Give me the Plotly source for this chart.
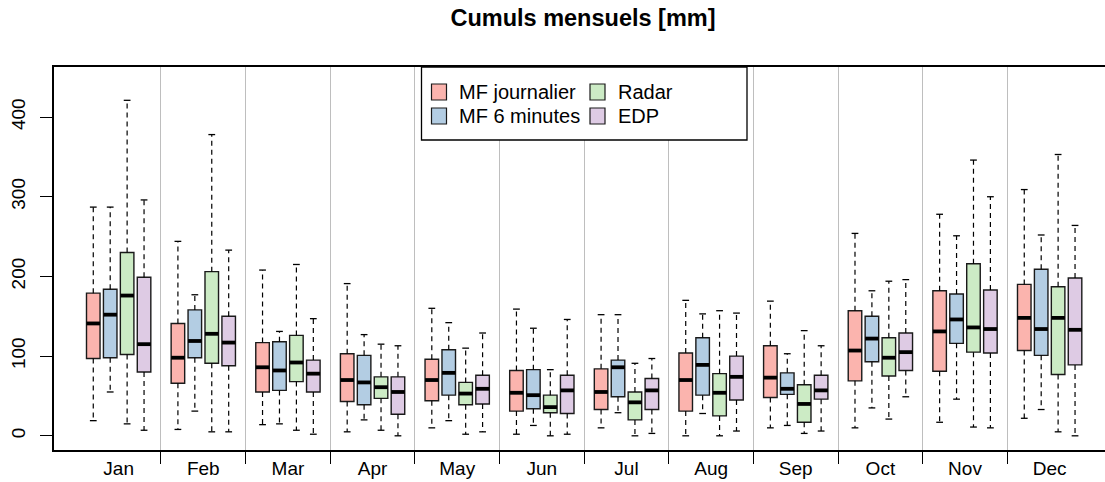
import plotly.graph_objects as go

months = ["Jan", "Feb", "Mar", "Apr", "May", "Jun", "Jul", "Aug", "Sep", "Oct", "Nov", "Dec"]
series_names = ["MF journalier", "MF 6 minutes", "Radar", "EDP"]
fill_colors = ["#FBB4AE", "#B3CDE3", "#CCEBC5", "#DECBE4"]

# MF journalier
mfj_low = [19, 8, 14, 5, 10, 2, 10, 0, 10, 10, 17, 22]
mfj_q1 = [97, 66, 55, 43, 44, 31, 33, 31, 48, 69, 81, 107]
mfj_med = [141, 98, 86, 70, 70, 54, 55, 70, 73, 107, 131, 148]
mfj_q3 = [179, 141, 117, 103, 96, 82, 84, 104, 113, 157, 182, 190]
mfj_high = [287, 244, 208, 191, 160, 159, 152, 170, 169, 254, 278, 309]

# MF 6 minutes
mf6_low = [55, 31, 15, 20, 19, 13, 29, 28, 13, 35, 46, 33]
mf6_q1 = [98, 98, 57, 39, 51, 34, 49, 51, 52, 93, 116, 101]
mf6_med = [152, 119, 82, 67, 79, 51, 86, 89, 59, 122, 146, 134]
mf6_q3 = [184, 158, 118, 101, 108, 83, 95, 123, 79, 150, 178, 209]
mf6_high = [287, 177, 131, 127, 142, 135, 152, 153, 103, 182, 251, 252]

# Radar
rad_low = [15, 5, 7, 7, 2, 0, 0, 0, 3, 21, 11, 5]
rad_q1 = [102, 91, 68, 47, 39, 29, 20, 25, 17, 75, 105, 77]
rad_med = [176, 128, 92, 61, 53, 36, 42, 54, 40, 98, 136, 148]
rad_q3 = [230, 206, 126, 74, 67, 51, 55, 78, 64, 123, 216, 187]
rad_high = [421, 378, 215, 115, 110, 83, 91, 157, 132, 194, 346, 353]

# EDP
edp_low = [7, 5, 2, 0, 5, 2, 3, 6, 6, 49, 10, 0]
edp_q1 = [80, 88, 55, 27, 40, 28, 33, 45, 46, 82, 104, 89]
edp_med = [115, 117, 78, 55, 59, 57, 57, 74, 57, 105, 134, 133]
edp_q3 = [199, 150, 95, 74, 76, 76, 72, 100, 76, 129, 183, 198]
edp_high = [296, 233, 147, 113, 129, 146, 97, 154, 113, 196, 300, 264]

y_ticks = [0, 100, 200, 300, 400]

stats = [
    (mfj_low, mfj_q1, mfj_med, mfj_q3, mfj_high),
    (mf6_low, mf6_q1, mf6_med, mf6_q3, mf6_high),
    (rad_low, rad_q1, rad_med, rad_q3, rad_high),
    (edp_low, edp_q1, edp_med, edp_q3, edp_high),
]

FONT = "Liberation Sans, Arial, Helvetica, sans-serif"
BOX_W = 0.8
CAP_W = 0.4
n_series = len(series_names)
group = n_series + 1

fig = go.Figure()

for j, name in enumerate(series_names):
    lo, q1, md, q3, hi = stats[j]
    xs = [group * m + j + 1 for m in range(len(months))]
    fig.add_trace(go.Box(
        x=xs, q1=q1, median=md, q3=q3, lowerfence=q1, upperfence=q3,
        orientation="v", width=BOX_W, whiskerwidth=0,
        fillcolor=fill_colors[j], line=dict(color="#1a1a1a", width=1.4),
        name=name, showlegend=False, boxpoints=False, hoverinfo="skip",
    ))

for j, name in enumerate(series_names):
    lo, q1, md, q3, hi = stats[j]
    xs = [group * m + j + 1 for m in range(len(months))]
    wx, wy, cx, cy, mx, my = [], [], [], [], [], []
    for k, x in enumerate(xs):
        wx += [x, x, None, x, x, None]
        wy += [q3[k], hi[k], None, q1[k], lo[k], None]
        cx += [x - CAP_W / 2, x + CAP_W / 2, None, x - CAP_W / 2, x + CAP_W / 2, None]
        cy += [hi[k], hi[k], None, lo[k], lo[k], None]
        mx += [x - BOX_W / 2, x + BOX_W / 2, None]
        my += [md[k], md[k], None]
    fig.add_trace(go.Scatter(x=wx, y=wy, mode="lines", showlegend=False, hoverinfo="skip",
                             line=dict(color="black", width=1.2, dash="5px,4px")))
    fig.add_trace(go.Scatter(x=cx, y=cy, mode="lines", showlegend=False, hoverinfo="skip",
                             line=dict(color="black", width=1.3)))
    fig.add_trace(go.Scatter(x=mx, y=my, mode="lines", showlegend=False, hoverinfo="skip",
                             line=dict(color="black", width=3.8)))

centers = [group * m + (group) / 2 for m in range(len(months))]
separators = [group * m for m in range(1, len(months))]

# pixel geometry helpers for legend (paper coords)
L, R, T, B = 54, 1105, 67, 450
def px(xp):
    return (xp - L) / (R - L)
def py(yp):
    return (B - yp) / (B - T)

shapes = [dict(type="rect", xref="paper", yref="paper", x0=px(421.5), x1=px(747), y0=py(140), y1=py(67),
               fillcolor="white", line=dict(color="black", width=1.3), layer="above")]
annotations = []
leg_cols = [(431.5, 457), (590, 615.5)]
leg_rows = [92, 116]
for j, name in enumerate(series_names):
    col = j // 2
    row = j % 2
    sx, tx = leg_cols[col]
    cyp = leg_rows[row]
    shapes.append(dict(type="rect", xref="paper", yref="paper", x0=px(sx), x1=px(sx + 15),
                       y0=py(cyp + 8), y1=py(cyp - 8), fillcolor=fill_colors[j],
                       line=dict(color="#1a1a1a", width=1.2), layer="above"))
    annotations.append(dict(xref="paper", yref="paper", x=px(tx), y=py(cyp), text=name,
                            showarrow=False, xanchor="left", yanchor="middle",
                            font=dict(family=FONT, size=20, color="black")))

fig.update_layout(
    width=1105, height=482,
    margin=dict(l=L, r=0, t=T, b=482 - B),
    plot_bgcolor="white", paper_bgcolor="white",
    font=dict(family=FONT, size=19, color="black"),
    title=dict(text="<b>Cumuls mensuels [mm]</b>", x=px(583), xref="paper", xanchor="center",
               y=1 - 18 / 482, yref="container", yanchor="middle",
               font=dict(family=FONT, size=23.5, color="black")),
    shapes=shapes, annotations=annotations,
    boxmode="overlay",
    xaxis=dict(range=[-1.32, 60.77], tickmode="array", tickvals=centers, ticktext=months,
               ticks="", showgrid=False, zeroline=False, showline=True, linecolor="black",
               linewidth=1.5, mirror=True, tickfont=dict(size=19),
               minor=dict(tickmode="array", tickvals=separators, ticks="outside", ticklen=12,
                          tickwidth=1.3, tickcolor="black", showgrid=True,
                          gridcolor="#bebebe", gridwidth=1.3)),
    yaxis=dict(range=[-17.8, 462.8], tickmode="array", tickvals=y_ticks,
               ticks="outside", ticklen=12, tickwidth=1.3, tickcolor="black",
               tickangle=-90, ticklabelstandoff=8, showgrid=False, zeroline=False, showline=True,
               linecolor="black", linewidth=1.5, tickfont=dict(size=19)),
)

fig.write_html("out.html")
